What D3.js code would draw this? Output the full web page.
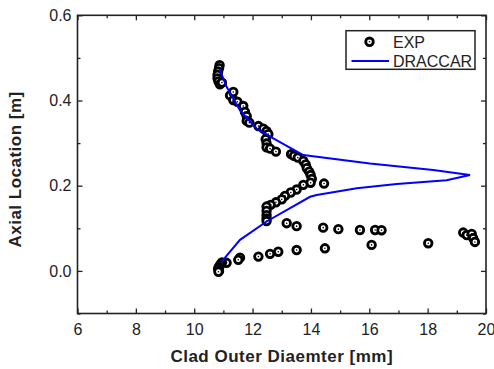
<!DOCTYPE html>
<html><head><meta charset="utf-8">
<script src="https://cdn.jsdelivr.net/npm/d3@7"></script>
<style>html,body{margin:0;padding:0;background:#fff;}svg{display:block;font-family:"Liberation Sans",Arial,sans-serif;}</style>
</head><body><div id="chart"></div>
<script>
const xTicks = [6, 8, 10, 12, 14, 16, 18, 20];
const yTicks = [0.0, 0.2, 0.4, 0.6];
const seriesNames = ["EXP", "DRACCAR"];

// EXP: clad outer diameter [mm] vs axial location [m]
const expX = [10.87,10.85,10.82,10.80,10.80,10.83,10.88,10.95,
  11.23,11.34,11.34,11.48,11.68,11.74,11.80,11.80,11.89,12.20,12.37,12.48,12.54,
  12.45,12.48,12.48,12.60,12.80,13.32,13.42,13.55,13.74,13.82,13.86,13.94,13.99,14.03,13.99,
  14.45,13.74,13.51,13.31,13.11,13.00,12.80,12.62,12.48,12.48,12.48,12.48,12.48,
  13.17,13.51,14.42,14.94,15.68,16.20,16.42,
  19.22,19.34,19.51,19.56,19.62,18.02,16.08,
  14.48,13.51,12.88,12.60,12.20,11.57,11.51,11.11,
  10.95,10.90,10.85,10.82,10.85,10.83];
const expY = [0.483,0.476,0.468,0.460,0.452,0.445,0.438,0.442,
  0.412,0.420,0.401,0.397,0.387,0.373,0.363,0.352,0.348,0.340,0.334,0.328,0.321,
  0.309,0.299,0.290,0.287,0.280,0.274,0.270,0.266,0.258,0.250,0.241,0.233,0.225,0.216,0.207,
  0.205,0.202,0.191,0.184,0.176,0.168,0.161,0.155,0.151,0.141,0.131,0.123,0.117,
  0.112,0.105,0.1015,0.098,0.096,0.096,0.0955,
  0.090,0.084,0.087,0.077,0.068,0.065,0.061,
  0.053,0.049,0.045,0.040,0.0336,0.031,0.026,0.019,
  0.020,0.015,0.010,0.005,0.000,-0.002];

// DRACCAR simulation
const simX = [10.86,11.11,11.57,12.14,12.71,13.63,13.74,16.02,18.19,19.45,
  18.65,16.94,15.57,14.20,13.97,12.48,11.57,10.94];
const simY = [0.475,0.432,0.377,0.334,0.311,0.276,0.272,0.252,0.237,0.225,
  0.213,0.204,0.194,0.178,0.174,0.116,0.073,0.022];

const W = 494, H = 369;
const m = {l: 77.5, r: 8, t: 15.3, b: 55.5};
const svg = d3.select("#chart").append("svg").attr("width", W).attr("height", H);
const x = d3.scaleLinear().domain([6, 20]).range([m.l, W - m.r]);
const y = d3.scaleLinear().domain([-0.1, 0.6]).range([H - m.b, m.t]);
const ink = "#222";

const gx = svg.append("g").attr("transform", `translate(0,${H - m.b})`)
  .call(d3.axisBottom(x).tickValues(xTicks).tickSize(-5).tickPadding(10).tickFormat(d3.format("d")));
const gxm = svg.append("g").attr("transform", `translate(0,${H - m.b})`)
  .call(d3.axisBottom(x).tickValues(d3.range(7, 20, 2)).tickSize(-3).tickFormat(""));
const gxt = svg.append("g").attr("transform", `translate(0,${m.t})`)
  .call(d3.axisTop(x).tickValues(xTicks).tickSize(-5).tickFormat(""));
const gxtm = svg.append("g").attr("transform", `translate(0,${m.t})`)
  .call(d3.axisTop(x).tickValues(d3.range(7, 20, 2)).tickSize(-3).tickFormat(""));
const gy = svg.append("g").attr("transform", `translate(${m.l},0)`)
  .call(d3.axisLeft(y).tickValues(yTicks).tickSize(-5).tickPadding(6).tickFormat(d3.format(".1f")));
const gym = svg.append("g").attr("transform", `translate(${m.l},0)`)
  .call(d3.axisLeft(y).tickValues([-0.1, 0.1, 0.3, 0.5]).tickSize(-3).tickFormat(""));
const gyr = svg.append("g").attr("transform", `translate(${W - m.r},0)`)
  .call(d3.axisRight(y).tickValues(yTicks).tickSize(-5).tickFormat(""));
const gyrm = svg.append("g").attr("transform", `translate(${W - m.r},0)`)
  .call(d3.axisRight(y).tickValues([-0.1, 0.1, 0.3, 0.5]).tickSize(-3).tickFormat(""));
[gx, gxm, gxt, gxtm, gy, gym, gyr, gyrm].forEach(g => {
  g.select(".domain").remove();
  g.selectAll("line").attr("stroke", ink).attr("stroke-width", 1.3);
  g.selectAll("text").attr("fill", ink).style("font-size", "16px").style("font-family", '"Liberation Sans",Arial,sans-serif');
});
svg.append("rect").attr("x", m.l).attr("y", m.t).attr("width", W - m.r - m.l).attr("height", H - m.b - m.t)
  .attr("fill", "none").attr("stroke", ink).attr("stroke-width", 1.6);

// markers
function marker(g, cx, cy) {
  g.append("circle").attr("cx", cx).attr("cy", cy).attr("r", 3.8)
    .attr("fill", "#fff").attr("stroke", "#000").attr("stroke-width", 2.8);
  g.append("circle").attr("cx", cx).attr("cy", cy).attr("r", 0.8).attr("fill", "#000");
}
const gp = svg.append("g");
expX.forEach((v, i) => marker(gp, x(v), y(expY[i])));

// line (drawn over the markers)
svg.append("path").datum(simX.map((v, i) => [v, simY[i]]))
  .attr("d", d3.line().x(d => x(d[0])).y(d => y(d[1])))
  .attr("fill", "none").attr("stroke", "#0000ff").attr("stroke-width", 2);

// legend
const lg = svg.append("g");
lg.append("rect").attr("x", 346).attr("y", 30.7).attr("width", 129).attr("height", 38.6)
  .attr("fill", "#fff").attr("stroke", ink).attr("stroke-width", 1.5);
marker(lg, 369.5, 41.8);
lg.append("text").attr("x", 393).attr("y", 47.5).text(seriesNames[0])
  .attr("fill", ink).style("font-size", "16px");
lg.append("line").attr("x1", 351.5).attr("x2", 389).attr("y1", 61).attr("y2", 61)
  .attr("stroke", "#0000ff").attr("stroke-width", 2);
lg.append("text").attr("x", 393).attr("y", 66.5).text(seriesNames[1])
  .attr("fill", ink).style("font-size", "16px");

// titles
svg.append("text").attr("x", (m.l + W - m.r) / 2).attr("y", 362).attr("text-anchor", "middle")
  .style("font-size", "17px").style("font-weight", "bold").style("letter-spacing", "0.5px")
  .attr("fill", ink).text("Clad Outer Diaemter [mm]");
svg.append("text").attr("transform", `translate(21,${(m.t + H - m.b) / 2 + 5}) rotate(-90)`)
  .attr("text-anchor", "middle")
  .style("font-size", "17px").style("font-weight", "bold").style("letter-spacing", "0.5px")
  .attr("fill", ink).text("Axial Location [m]");
</script></body></html>
